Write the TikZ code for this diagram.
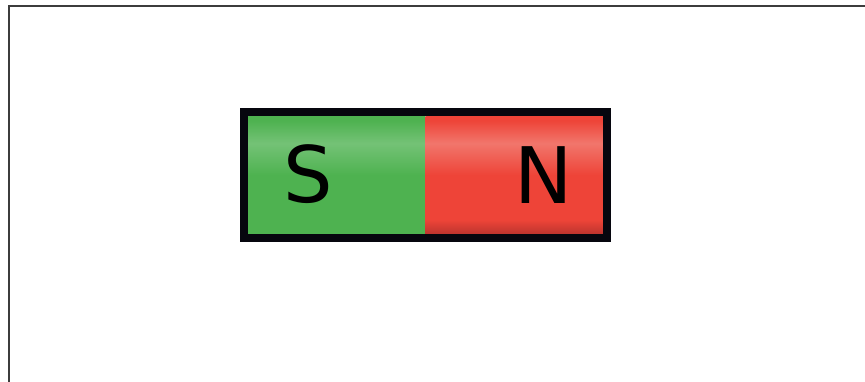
\documentclass[tikz,border=0pt]{standalone}
\usepackage{fontspec}
\setmainfont{DejaVu Sans}
\usepackage{tikz}
\usetikzlibrary{positioning}

\definecolor{poleGreen}{RGB}{78,178,80}
\definecolor{poleGreenLight}{RGB}{116,194,118}
\definecolor{poleRed}{RGB}{238,68,56}
\definecolor{poleRedLight}{RGB}{241,118,108}
\definecolor{poleRedDark}{RGB}{188,52,46}
\definecolor{rimBlack}{RGB}{6,6,14}
\definecolor{frameGray}{RGB}{60,60,60}

% vertical shadings, the path covers 25bp..75bp
\pgfdeclareverticalshading{greenpole}{100bp}{color(0bp)=(poleGreen); color(25bp)=(poleGreen); color(50bp)=(poleGreen); color(63.5bp)=(poleGreenLight); color(73bp)=(poleGreen); color(100bp)=(poleGreen)}
\pgfdeclareverticalshading{redpole}{100bp}{color(0bp)=(poleRedDark); color(25bp)=(poleRedDark); color(31bp)=(poleRed); color(50bp)=(poleRed); color(63.5bp)=(poleRedLight); color(73bp)=(poleRed); color(100bp)=(poleRed)}

\begin{document}
\begin{tikzpicture}[
        x=1pt, y=-1pt,
        half/.style={rectangle, inner sep=0pt, outer sep=0pt, minimum width=177.5pt, minimum height=118pt},
        rim/.style={draw=rimBlack, line width=8pt, rectangle, inner sep=0pt, minimum width=363pt, minimum height=126pt},
        pole/.style={font=\fontsize{78}{78}\selectfont, inner sep=0pt, anchor=base, text=black},
        frame/.style={draw=frameGray, line width=2pt}
    ]
    \useasboundingbox (0,0) rectangle (865,381);

    % Frame
    \coordinate (corner) at (8.5,6);
    \coordinate (topend) at (866,6);
    \coordinate (leftend) at (8.5,382);
    \draw[frame] (leftend) -- (corner) -- (topend);

    % Magnet halves
    \node[half, shading=greenpole] (south) at (336.75,175) {};
    \node[half, shading=redpole, right=0pt of south] (north) {};
    \node[rim] (magnet) at (425.5,175) {};

    % Pole letters
    \node[pole] (slabel) at (308,202.5) {S};
    \node[pole] (nlabel) at (544,203) {N};
\end{tikzpicture}
\end{document}
